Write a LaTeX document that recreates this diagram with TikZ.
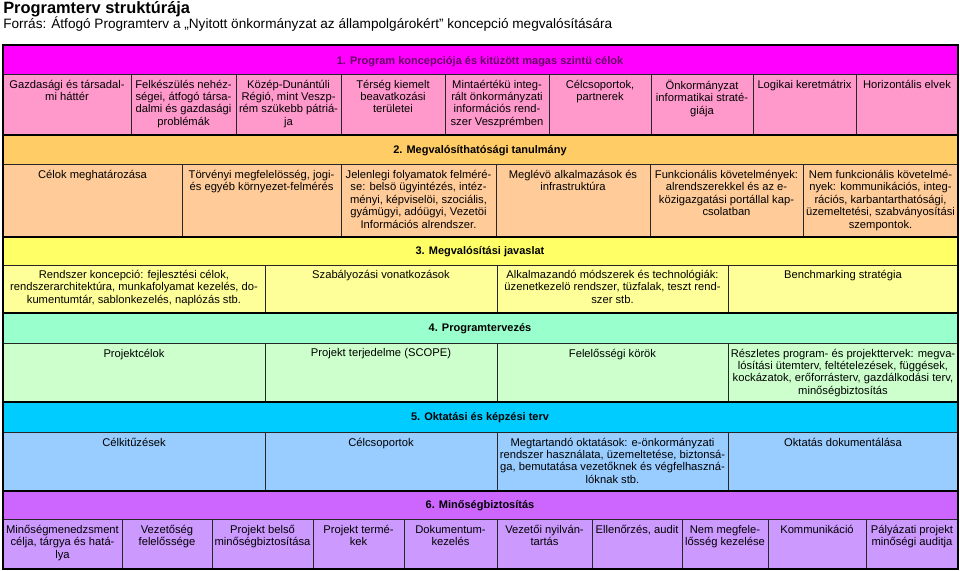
\documentclass[tikz,border=0pt]{standalone}
\usepackage{fontspec}
\setmainfont{Liberation Sans}
\definecolor{hA}{HTML}{FF00FF}
\definecolor{rA}{HTML}{FF99CC}
\definecolor{hB}{HTML}{FFCC66}
\definecolor{rB}{HTML}{FFCC99}
\definecolor{hC}{HTML}{FFFF66}
\definecolor{rC}{HTML}{FFFF99}
\definecolor{hD}{HTML}{99FFCC}
\definecolor{rD}{HTML}{CCFFCC}
\definecolor{hE}{HTML}{00CCFF}
\definecolor{rE}{HTML}{99CCFF}
\definecolor{hF}{HTML}{CC66FF}
\definecolor{rF}{HTML}{CC99FF}
\definecolor{hAtext}{HTML}{660066}
\begin{document}
\begin{tikzpicture}[x=0.75pt,y=-0.75pt,
  cell/.style={anchor=north,align=center,inner sep=0pt,font=\fontsize{8.4}{9.35}\selectfont},
  hdr/.style={anchor=center,inner sep=0pt,font=\bfseries\fontsize{8.25}{9.15}\selectfont},
  thinline/.style={line width=0.7pt,draw=black!85},
  bandline/.style={line width=1.6pt,draw=black},
  frameline/.style={line width=2.2pt,draw=black}]
\useasboundingbox (0,0) rectangle (960,571);

% title
\node[anchor=base west,inner sep=0pt,font=\bfseries\fontsize{12.3}{14}\selectfont] (title) at (3,13.5) {Programterv struktúrája};
\node[anchor=base west,inner sep=0pt,font=\fontsize{10.2}{12}\selectfont] (source) at (3,28.5) {Forrás: Átfogó Programterv a „Nyitott önkormányzat az állampolgárokért" koncepció megvalósítására};

% fills
\fill[hA] (3,45) rectangle (958,74);
\fill[rA] (3,74) rectangle (958,135);
\fill[hB] (3,135) rectangle (958,164);
\fill[rB] (3,164) rectangle (958,237);
\fill[hC] (3,237) rectangle (958,265);
\fill[rC] (3,265) rectangle (958,313);
\fill[hD] (3,313) rectangle (958,343);
\fill[rD] (3,343) rectangle (958,402);
\fill[hE] (3,402) rectangle (958,432);
\fill[rE] (3,432) rectangle (958,491);
\fill[hF] (3,491) rectangle (958,519);
\fill[rF] (3,519) rectangle (958,569);

% header/row separators
\foreach \y in {74,164,265,343,432,519} \draw[thinline] (3,\y) -- (958,\y);
% column dividers
\foreach \x in {131,236,341,445,549,651,753,856} \draw[thinline] (\x,74) -- (\x,135);
\foreach \x in {182,341,496,650,803} \draw[thinline] (\x,164) -- (\x,237);
\foreach \x in {265,497,728} {
  \draw[thinline] (\x,265) -- (\x,313);
  \draw[thinline] (\x,343) -- (\x,402);
  \draw[thinline] (\x,432) -- (\x,491);
}
\foreach \x in {122,212,313,404,497,592,682,768,866} \draw[thinline] (\x,519) -- (\x,569);
% band separators
\foreach \y in {135,237,313,402,491} \draw[bandline] (3,\y) -- (958,\y);
% frame
\draw[frameline] (3,45) rectangle (958,569);

% headers
\node[hdr,text=hAtext] (h1) at (480,62) {1. Program koncepciója és kitüzött magas szintü célok};
\node[hdr] (h2) at (480,150.5) {2. Megvalósíthatósági tanulmány};
\node[hdr] (h3) at (480,252) {3. Megvalósítási javaslat};
\node[hdr] (h4) at (480,329) {4. Programtervezés};
\node[hdr] (h5) at (480,418) {5. Oktatási és képzési terv};
\node[hdr] (h6) at (480,506) {6. Minőségbiztosítás};

% row 1
\def\ty{79.5}
\node[cell] (a1) at (67,\ty) {Gazdasági és társadal-\\mi háttér};
\node[cell] (a2) at (183.5,\ty) {Felkészülés nehéz-\\ségei, átfogó társa-\\dalmi és gazdasági\\problémák};
\node[cell] (a3) at (288.5,\ty) {Közép-Dunántúli\\Régió, mint Veszp-\\rém szükebb pátriá-\\ja};
\node[cell] (a4) at (393,\ty) {Térség kiemelt\\beavatkozási\\területei};
\node[cell] (a5) at (497,\ty) {Mintaértékü integ-\\rált önkormányzati\\információs rend-\\szer Veszprémben};
\node[cell] (a6) at (600,\ty) {Célcsoportok,\\partnerek};
\node[cell] (a7) at (702,\ty) {Önkormányzat\\informatikai straté-\\giája};
\node[cell] (a8) at (804.5,\ty) {Logikai keretmátrix};
\node[cell] (a9) at (907,\ty) {Horizontális elvek};

% row 2
\def\ty{170}
\node[cell] (b1) at (92.5,\ty) {Célok meghatározása};
\node[cell] (b2) at (261.5,\ty) {Törvényi megfelelösség, jogi-\\és egyéb környezet-felmérés};
\node[cell] (b3) at (418.5,\ty) {Jelenlegi folyamatok felméré-\\se: belsö ügyintézés, intéz-\\ményi, képviselöi, szociális,\\gyámügyi, adóügyi, Vezetöi\\Információs alrendszer.};
\node[cell] (b4) at (573,\ty) {Meglévö alkalmazások és\\infrastruktúra};
\node[cell] (b5) at (726.5,\ty) {Funkcionális követelmények:\\alrendszerekkel és az e-\\közigazgatási portállal kap-\\csolatban};
\node[cell] (b6) at (880.5,\ty) {Nem funkcionális követelmé-\\nyek: kommunikációs, integ-\\rációs, karbantarthatósági,\\üzemeltetési, szabványosítási\\szempontok.};

% row 3
\def\ty{270}
\node[cell] (c1) at (134,\ty) {Rendszer koncepció: fejlesztési célok,\\rendszerarchitektúra, munkafolyamat kezelés, do-\\kumentumtár, sablonkezelés, naplózás stb.};
\node[cell] (c2) at (381,\ty) {Szabályozási vonatkozások};
\node[cell] (c3) at (612.5,\ty) {Alkalmazandó módszerek és technológiák:\\üzenetkezelö rendszer, tüzfalak, teszt rend-\\szer stb.};
\node[cell] (c4) at (843,\ty) {Benchmarking stratégia};

% row 4
\def\ty{348.5}
\node[cell] (d1) at (134,\ty) {Projektcélok};
\node[cell] (d2) at (381,\ty) {Projekt terjedelme (SCOPE)};
\node[cell] (d3) at (612.5,\ty) {Felelősségi körök};
\node[cell] (d4) at (843,\ty) {Részletes program- és projekttervek: megva-\\lósítási ütemterv, feltételezések, függések,\\kockázatok, erőforrásterv, gazdálkodási terv,\\minőségbiztosítás};

% row 5
\def\ty{437.5}
\node[cell] (e1) at (134,\ty) {Célkitűzések};
\node[cell] (e2) at (381,\ty) {Célcsoportok};
\node[cell] (e3) at (612.5,\ty) {Megtartandó oktatások: e-önkormányzati\\rendszer használata, üzemeltetése, biztonsá-\\ga, bemutatása vezetőknek és végfelhaszná-\\lóknak stb.};
\node[cell] (e4) at (843,\ty) {Oktatás dokumentálása};

% row 6
\def\ty{525}
\node[cell] (f1) at (62.5,\ty) {Minőségmenedzsment\\célja, tárgya és hatá-\\lya};
\node[cell] (f2) at (167,\ty) {Vezetőség\\felelőssége};
\node[cell] (f3) at (262.5,\ty) {Projekt belső\\minőségbiztosítása};
\node[cell] (f4) at (358.5,\ty) {Projekt termé-\\kek};
\node[cell] (f5) at (450.5,\ty) {Dokumentum-\\kezelés};
\node[cell] (f6) at (544.5,\ty) {Vezetői nyilván-\\tartás};
\node[cell] (f7) at (637,\ty) {Ellenőrzés, audit};
\node[cell] (f8) at (725,\ty) {Nem megfele-\\lősség kezelése};
\node[cell] (f9) at (817,\ty) {Kommunikáció};
\node[cell] (f10) at (912,\ty) {Pályázati projekt\\minőségi auditja};
\end{tikzpicture}
\end{document}
